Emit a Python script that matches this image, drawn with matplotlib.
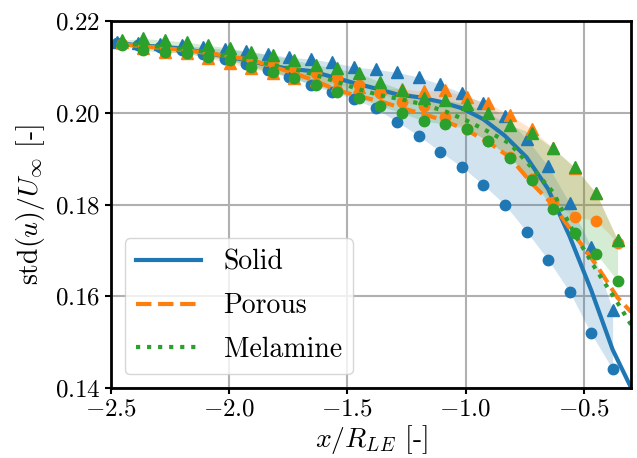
import numpy as np
import matplotlib
matplotlib.use("Agg")
import matplotlib.pyplot as plt

plt.rcParams['font.family'] = 'serif'
plt.rcParams['font.serif'] = ['cmr10']
plt.rcParams['mathtext.fontset'] = 'cm'
plt.rcParams['axes.formatter.use_mathtext'] = True

# streamwise stations (x / R_LE)
x_solid = [-2.475, -2.384, -2.293, -2.201, -2.110, -2.019, -1.928, -1.837,
           -1.745, -1.654, -1.563, -1.472, -1.381, -1.289, -1.198, -1.107,
           -1.016, -0.925, -0.834, -0.742, -0.651, -0.560, -0.469, -0.378]
x_treated = [-2.454, -2.363, -2.272, -2.180, -2.089, -1.998, -1.907, -1.816,
             -1.724, -1.633, -1.542, -1.451, -1.360, -1.268, -1.177, -1.086,
             -0.995, -0.904, -0.813, -0.721, -0.630, -0.539, -0.448, -0.357]

# mean profiles (lines), last point at the domain edge
x_solid_line = x_solid + [-0.300]
solid_mean = [0.2152, 0.2147, 0.2144, 0.2140, 0.2132, 0.2123, 0.2115, 0.2104,
              0.2096, 0.2091, 0.2078, 0.2065, 0.2053, 0.2040, 0.2034, 0.2024,
              0.2010, 0.1986, 0.1950, 0.1903, 0.1834, 0.1731, 0.1614, 0.1484,
              0.1401]
x_treated_line = x_treated + [-0.300]
porous_mean = [0.2149, 0.2145, 0.2141, 0.2136, 0.2130, 0.2123, 0.2115, 0.2101,
               0.2086, 0.2069, 0.2049, 0.2036, 0.2025, 0.2010, 0.1997, 0.1982,
               0.1962, 0.1936, 0.1903, 0.1847, 0.1799, 0.1734, 0.1669, 0.1597,
               0.1566]
melamine_mean = [0.2152, 0.2147, 0.2143, 0.2138, 0.2132, 0.2123, 0.2115, 0.2104,
                 0.2095, 0.2082, 0.2067, 0.2051, 0.2038, 0.2029, 0.2018, 0.2003,
                 0.1983, 0.1959, 0.1933, 0.1881, 0.1827, 0.1736, 0.1658, 0.1586,
                 0.1538]

# bounds: circles / triangles
solid_lo = [0.2152, 0.2147, 0.2143, 0.2136, 0.2128, 0.2117, 0.2106, 0.2093,
            0.2078, 0.2060, 0.2045, 0.2030, 0.2010, 0.1980, 0.1950, 0.1915,
            0.1882, 0.1843, 0.1800, 0.1741, 0.1680, 0.1610, 0.1519, 0.1441]
solid_hi = [0.2154, 0.2152, 0.2149, 0.2147, 0.2143, 0.2138, 0.2134, 0.2128,
            0.2121, 0.2117, 0.2110, 0.2100, 0.2095, 0.2088, 0.2078, 0.2062,
            0.2043, 0.2021, 0.1993, 0.1943, 0.1884, 0.1803, 0.1708, 0.1571]
porous_lo = [0.2149, 0.2145, 0.2141, 0.2136, 0.2132, 0.2125, 0.2119, 0.2108,
             0.2097, 0.2086, 0.2075, 0.2060, 0.2043, 0.2023, 0.2014, 0.1991,
             0.1965, 0.1938, 0.1904, 0.1856, 0.1806, 0.1773, 0.1765, 0.1717]
porous_hi = [0.2154, 0.2141, 0.2132, 0.2130, 0.2119, 0.2108, 0.2097, 0.2086,
             0.2075, 0.2071, 0.2060, 0.2056, 0.2054, 0.2052, 0.2047, 0.2049,
             0.2034, 0.2021, 0.1995, 0.1965, 0.1923, 0.1880, 0.1825, 0.1723]
melamine_lo = [0.2147, 0.2136, 0.2132, 0.2130, 0.2121, 0.2115, 0.2099, 0.2088,
               0.2075, 0.2060, 0.2045, 0.2032, 0.2015, 0.1999, 0.1982, 0.1975,
               0.1965, 0.1938, 0.1902, 0.1854, 0.1791, 0.1738, 0.1693, 0.1634]
melamine_hi = [0.2158, 0.2162, 0.2158, 0.2154, 0.2147, 0.2141, 0.2132, 0.2125,
               0.2115, 0.2104, 0.2097, 0.2086, 0.2067, 0.2050, 0.2032, 0.2028,
               0.2019, 0.1999, 0.1973, 0.1956, 0.1923, 0.1882, 0.1825, 0.1723]

series = [
    ('Solid', 'C0', '-', x_solid, x_solid_line, solid_mean, solid_lo, solid_hi),
    ('Porous', 'C1', '--', x_treated, x_treated_line, porous_mean, porous_lo, porous_hi),
    ('Melamine', 'C2', ':', x_treated, x_treated_line, melamine_mean, melamine_lo, melamine_hi),
]

fig = plt.figure(figsize=(6.37, 4.58), dpi=100)
ax = fig.add_axes([0.1743, 0.1528, 0.8163, 0.8013])

for name, col, ls, xm, xl, mean, lo, hi in series:
    ax.fill_between(xm, lo, hi, color=col, alpha=0.2, linewidth=0)
    ax.plot(xl, mean, color=col, linestyle=ls, linewidth=3, label=name)
    ax.plot(xm, lo, 'o', color=col, markersize=7.5)
    ax.plot(xm, hi, '^', color=col, markersize=8)

ax.set_xlim(-2.5, -0.3)
ax.set_ylim(0.14, 0.22)
ax.set_xticks([-2.5, -2.0, -1.5, -1.0, -0.5])
ax.set_yticks([0.14, 0.16, 0.18, 0.20, 0.22])
ax.grid(True, color='#b0b0b0', linewidth=1.5)
ax.set_axisbelow(True)
for s in ax.spines.values():
    s.set_linewidth(2)
ax.tick_params(labelsize=18, width=1.5, length=4)
ax.set_xlabel(r'$x/R_{LE}$ [-]', fontsize=20, labelpad=2)
ax.set_ylabel(r'$\mathrm{std}(u)/U_\infty$ [-]', fontsize=20, labelpad=6)
ax.legend(loc='lower left', fontsize=20, handlelength=2.35, labelspacing=0.62)

plt.savefig('out.png', dpi=100)
